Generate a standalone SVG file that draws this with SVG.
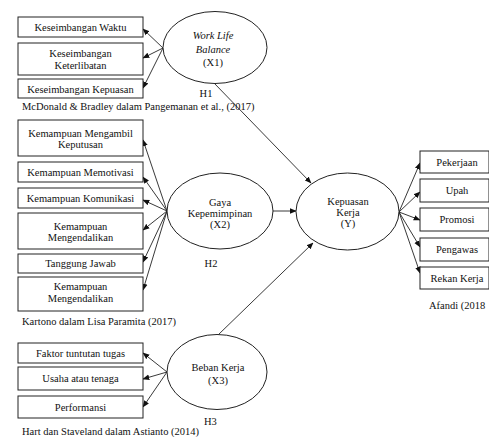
<svg xmlns="http://www.w3.org/2000/svg" width="489" height="437" viewBox="0 0 489 437">
<style>
text{font-family:"Liberation Serif","Times New Roman",serif;font-size:10.5px;fill:#111}
.c{text-anchor:middle}
.i{font-style:italic}
.box{fill:#fff;stroke:#222;stroke-width:1}
.ell{fill:#fff;stroke:#222;stroke-width:1}
.ln{stroke:#222;stroke-width:0.9;fill:none;marker-end:url(#ah)}
</style>
<defs>
<marker id="ah" viewBox="0 0 10 10" refX="9" refY="5" markerWidth="7" markerHeight="7" markerUnits="userSpaceOnUse" orient="auto">
<path d="M0,1 L10,5 L0,9 Z" fill="#111"/>
</marker>
</defs>
<rect width="489" height="437" fill="#fff"/>
<g id="connectors">
<line class="ln" x1="163" y1="48" x2="143" y2="29"/>
<line class="ln" x1="163" y1="48" x2="143" y2="58"/>
<line class="ln" x1="163" y1="48" x2="143" y2="88"/>
<line class="ln" x1="167" y1="211" x2="143" y2="140"/>
<line class="ln" x1="167" y1="211" x2="143" y2="177"/>
<line class="ln" x1="167" y1="211" x2="143" y2="200"/>
<line class="ln" x1="167" y1="211" x2="143" y2="230"/>
<line class="ln" x1="167" y1="211" x2="143" y2="262"/>
<line class="ln" x1="167" y1="211" x2="143" y2="290"/>
<line class="ln" x1="167" y1="372" x2="143" y2="353"/>
<line class="ln" x1="167" y1="372" x2="143" y2="379"/>
<line class="ln" x1="167" y1="372" x2="143" y2="407"/>
<line class="ln" x1="214" y1="83" x2="311" y2="183"/>
<line class="ln" x1="273" y1="211" x2="296" y2="211"/>
<line class="ln" x1="218" y1="335" x2="313" y2="243"/>
<line class="ln" x1="399" y1="212" x2="420" y2="163"/>
<line class="ln" x1="399" y1="212" x2="420" y2="192"/>
<line class="ln" x1="399" y1="212" x2="420" y2="220"/>
<line class="ln" x1="399" y1="212" x2="420" y2="247"/>
<line class="ln" x1="399" y1="212" x2="420" y2="273"/>
</g>
<g id="x1">
<ellipse class="ell" cx="215" cy="47.5" rx="52" ry="36"/>
<text class="c i" x="213" y="39">Work Life</text>
<text class="c i" x="213" y="53">Balance</text>
<text class="c" x="213" y="66">(X1)</text>
</g>
<g id="x2">
<ellipse class="ell" cx="220" cy="211" rx="53" ry="38"/>
<text class="c" x="220" y="206">Gaya</text>
<text class="c" x="220" y="217">Kepemimpinan</text>
<text class="c" x="220" y="228">(X2)</text>
</g>
<g id="x3">
<ellipse class="ell" cx="217" cy="372" rx="50" ry="37.5"/>
<text class="c" x="218" y="371">Beban Kerja</text>
<text class="c" x="218" y="384">(X3)</text>
</g>
<g id="y">
<ellipse class="ell" cx="347.5" cy="211.5" rx="51.5" ry="38.5"/>
<text class="c" x="348" y="205">Kepuasan</text>
<text class="c" x="348" y="216">Kerja</text>
<text class="c" x="348" y="227">(Y)</text>
</g>
<g id="x1-ind">
<rect class="box" x="18" y="17" width="125" height="20"/>
<text class="c" x="80.5" y="31">Keseimbangan Waktu</text>
<rect class="box" x="18" y="43" width="125" height="32"/>
<text class="c" x="80.5" y="57">Keseimbangan</text>
<text class="c" x="80.5" y="69">Keterlibatan</text>
<rect class="box" x="18" y="79" width="125" height="19"/>
<text class="c" x="80.5" y="93">Keseimbangan Kepuasan</text>
</g>
<g id="x2-ind">
<rect class="box" x="18" y="120" width="125" height="36"/>
<text class="c" x="80.5" y="137">Kemampuan Mengambil</text>
<text class="c" x="80.5" y="148">Keputusan</text>
<rect class="box" x="18" y="162" width="125" height="20"/>
<text class="c" x="80.5" y="176">Kemampuan Memotivasi</text>
<rect class="box" x="18" y="188" width="125" height="20"/>
<text class="c" x="80.5" y="202">Kemampuan Komunikasi</text>
<rect class="box" x="18" y="213" width="125" height="36"/>
<text class="c" x="80.5" y="230">Kemampuan</text>
<text class="c" x="80.5" y="241">Mengendalikan</text>
<rect class="box" x="18" y="254" width="125" height="19"/>
<text class="c" x="80.5" y="267">Tanggung Jawab</text>
<rect class="box" x="18" y="277" width="125" height="34"/>
<text class="c" x="80.5" y="290">Kemampuan</text>
<text class="c" x="80.5" y="302">Mengendalikan</text>
</g>
<g id="x3-ind">
<rect class="box" x="18" y="343" width="125" height="20"/>
<text class="c" x="80.5" y="357">Faktor tuntutan tugas</text>
<rect class="box" x="18" y="367" width="125" height="23"/>
<text class="c" x="80.5" y="382">Usaha atau tenaga</text>
<rect class="box" x="18" y="396" width="125" height="22"/>
<text class="c" x="80.5" y="411">Performansi</text>
</g>
<g id="y-ind">
<rect class="box" x="420" y="151" width="69" height="22"/>
<text class="c" x="457" y="166">Pekerjaan</text>
<rect class="box" x="420" y="179" width="69" height="23"/>
<text class="c" x="457" y="194">Upah</text>
<rect class="box" x="420" y="208" width="69" height="23"/>
<text class="c" x="457" y="223">Promosi</text>
<rect class="box" x="420" y="238" width="69" height="23"/>
<text class="c" x="457" y="253">Pengawas</text>
<rect class="box" x="420" y="267" width="69" height="22"/>
<text class="c" x="457" y="282">Rekan Kerja</text>
</g>
<g id="labels">
<text class="c" x="206" y="97">H1</text>
<text x="22" y="110">McDonald &amp; Bradley dalam Pangemanan et al., (2017)</text>
<text class="c" x="211" y="267">H2</text>
<text x="22" y="325">Kartono dalam Lisa Paramita (2017)</text>
<text x="204" y="425">H3</text>
<text x="22" y="435">Hart dan Staveland dalam Astianto (2014)</text>
<text x="429" y="309">Afandi  (2018</text>
</g>
</svg>
